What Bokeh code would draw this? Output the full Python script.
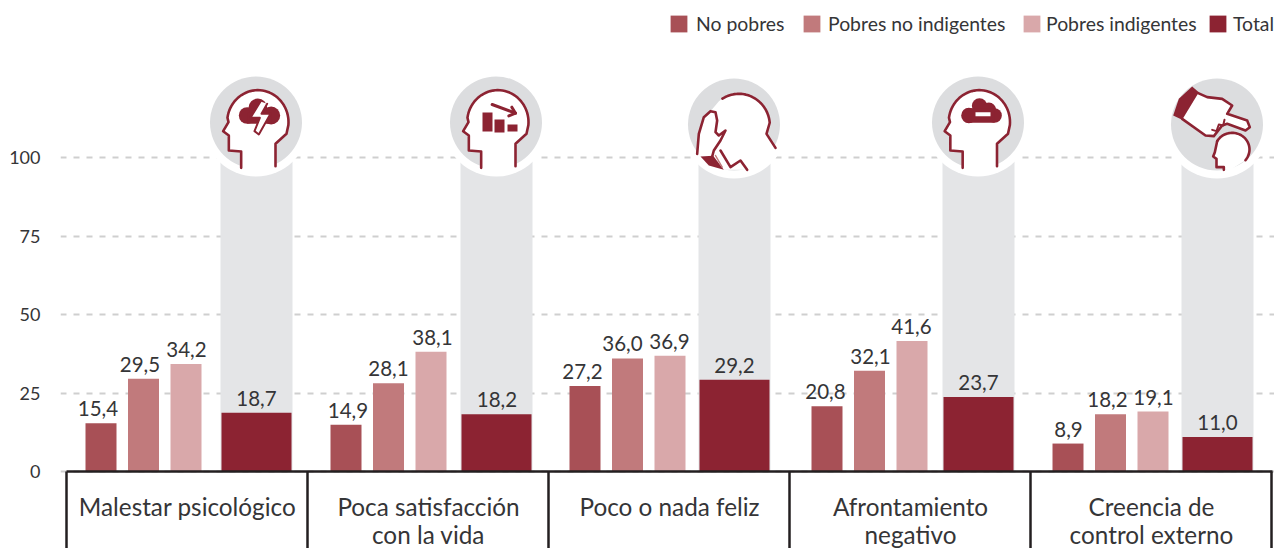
import numpy as np
from bokeh.embed import file_html
from bokeh.resources import INLINE
from bokeh.plotting import figure
from bokeh.models import Range1d, Legend, LegendItem, FixedTicker
from bokeh.core.properties import value

# ---------- data ----------
categories = ["Malestar psicológico", "Poca satisfacción\ncon la vida", "Poco o nada feliz",
              "Afrontamiento\nnegativo", "Creencia de\ncontrol externo"]
no_pobres = [15.4, 14.9, 27.2, 20.8, 8.9]
pobres_no_indigentes = [29.5, 28.1, 36.0, 32.1, 18.2]
pobres_indigentes = [34.2, 38.1, 36.9, 41.6, 19.1]
total = [18.7, 18.2, 29.2, 23.7, 11.0]
background = [100, 100, 100, 100, 100]
y_ticks = [0, 25, 50, 75, 100]
series_names = ["No pobres", "Pobres no indigentes", "Pobres indigentes", "Total"]

# ---------- layout ----------
FONT = "Lato"
TXT = "#353537"
RED = "#8c2332"
COLORS = ["#a85056", "#c17a7c", "#d9a8aa", RED]
GRAY = "#e4e5e7"
DISC = "#dcdddf"
first_x = [100.5, 345.5, 584.5, 826.5, 1067.5]
total_x = [256, 496, 734, 978, 1217]
sep_x = [66, 307, 548, 789, 1030, 1271]
label_x = [187, 428, 669, 910, 1151]
# horizontal nudges of the value labels, per series and group
label_nudge = [[-3, 2, -2.5, -1.5, 0.5], [-3.5, 0, -5, 1, -3], [0.5, 1.5, -0.5, -0.5, 0.5], [0, 0.5, 0, 0, 0]]
legend_x = [608, 741, 961, 1147]
legend_gap = [7, 6, 4, 5]
Y0 = 471.0
K = 3.14

def Y(py):
    return (Y0 - np.asarray(py, dtype=float)) / K

p = figure(width=1274, height=548, output_backend="svg", toolbar_location=None,
           x_range=Range1d(60, 1274), y_range=Range1d(float(Y(548)), float(Y(0))),
           min_border_left=60, min_border_right=0, min_border_top=0, min_border_bottom=0)
p.outline_line_color = None
p.background_fill_color = "white"
p.xaxis.visible = False
p.xgrid.visible = False
p.yaxis.axis_line_color = None
p.yaxis.major_tick_line_color = None
p.yaxis.minor_tick_line_color = None
p.yaxis.ticker = FixedTicker(ticks=y_ticks)
p.yaxis.major_label_text_font = FONT
p.yaxis.major_label_text_font_size = "18px"
p.yaxis.major_label_text_color = TXT
p.yaxis.major_label_standoff = 14
p.ygrid.ticker = FixedTicker(ticks=y_ticks)
p.ygrid.grid_line_color = "#cfcfcf"
p.ygrid.grid_line_width = 2
p.ygrid.grid_line_dash = "6 7"
p.ygrid.bounds = (66, 1274)

# grey columns
tx = np.array(total_x, dtype=float)
p.vbar(x=tx, top=background, bottom=0, width=72, fill_color=GRAY, line_color=None)

# bars
series = [no_pobres, pobres_no_indigentes, pobres_indigentes, total]
renderers = []
xs_all, ys_all, labels_all = [], [], []
for i, vals in enumerate(series):
    xs = tx if i == 3 else np.array(first_x) + i * 42.5
    r = p.vbar(x=xs, top=vals, bottom=0, width=70 if i == 3 else 31,
               fill_color=COLORS[i], line_color=None)
    renderers.append(r)
    xs_all += list(xs + np.array(label_nudge[i]))
    ys_all += list(vals)
    labels_all += [f"{v:.1f}".replace(".", ",") for v in vals]

p.text(x=xs_all, y=ys_all, text=labels_all, text_align="center", text_baseline="bottom",
       y_offset=-7, text_font=value(FONT), text_font_size="20.5px", text_color=TXT)

# frame below the baseline
p.segment(x0=[66], x1=[1272], y0=[0], y1=[0], line_color="#231f20", line_width=2.5)
p.segment(x0=sep_x, x1=sep_x, y0=[0] * 6, y1=[float(Y(548))] * 6, line_color="#231f20", line_width=2.5)

# category labels
p.text(x=label_x, y=[float(Y(491))] * 5, text=categories, text_align="center", text_baseline="top",
       text_font=value(FONT), text_font_size="24.3px", text_color=TXT, text_line_height=0.97)

# ---------- icons (decorative; in page pixels) ----------
def arc(cx, cy, rx, ry, a0, a1, n=40):
    a = np.radians(np.linspace(a0, a1, n))
    return [(cx + rx * np.cos(t), cy - ry * np.sin(t)) for t in a]

def shape(pts, ox, oy, dx=0, fill=None, line=None, w=2.6):
    xs = [ox + x / 3 + dx for x, _ in pts]
    yy = [float(v) for v in Y([oy + y / 3 for _, y in pts])]
    if fill:
        p.patch(xs, yy, fill_color=fill, line_color=None)
    if line:
        p.line(xs, yy, line_color=line, line_width=w, line_join="round", line_cap="round")

def blob(cx, cy, r, ox, oy, dx=0, col=RED):
    p.scatter([ox + cx / 3 + dx], [float(Y(oy + cy / 3))], size=2 * r / 3, fill_color=col,
              line_color=None, marker="circle")

def disc(cx, cy, d=92):
    p.scatter([cx], [float(Y(cy + 1))], size=d + 14, fill_color="white", line_color=None)
    p.scatter([cx], [float(Y(cy))], size=d, fill_color=DISC, line_color=None)

HEAD = ([(122, 292), (122, 243), (85, 240), (85, 195), (68, 182), (84, 155)]
        + arc(172, 155, 92, 96, 172, -5) + [(258, 190), (225, 220), (225, 287)])

def head(dx, oy=70):
    shape(HEAD + [(170, 305)], 200, oy, dx, fill="white")
    shape(HEAD, 200, oy, dx, line=RED)

for cx, cy in [(255.5, 122), (495.5, 122), (733.5, 124), (977.5, 122), (1216.5, 124)]:
    disc(cx, cy)

# icon 1
head(0)
for c in [(140, 135, 25), (172, 112, 28), (212, 135, 27)]:
    blob(*c, 200, 70)
shape([(140, 125), (212, 125), (212, 160), (140, 160)], 200, 70, fill=RED)
shape([(180, 93), (150, 142), (178, 142), (162, 182), (175, 192), (210, 130), (183, 130), (200, 100)],
      200, 70, fill="white", line=RED, w=2)

# icon 2
head(240)
for x0, y0, x1, y1 in [(846, 126, 876, 183), (882, 147, 912, 186), (921, 162, 951, 183)]:
    shape([(x0, y0), (x1, y0), (x1, y1), (x0, y1)], 200, 70, fill=RED)
shape([(875, 102), (945, 128)], 200, 70, line=RED, w=3)
shape([(934, 110), (945, 128), (925, 136)], 200, 70, line=RED, w=3)

# icon 3
shape(arc(175, 165, 93, 95, 130, 5) + [(258, 190), (285, 232), (240, 290), (200, 298), (130, 298),
      (85, 285), (60, 258), (50, 250), (55, 190), (70, 140), (90, 122)], 680, 70, fill="white")
shape(arc(175, 165, 93, 95, 122, 5) + [(258, 190), (285, 232)], 680, 70, line=RED)
shape([(60, 258), (98, 256), (130, 298), (85, 285)], 680, 70, fill=RED)
shape([(50, 250), (55, 190), (70, 140), (90, 122), (105, 125), (110, 150), (105, 185), (115, 195),
       (135, 180), (120, 210), (100, 240), (95, 258)], 680, 70, line=RED)
shape([(120, 240), (150, 290), (180, 270), (200, 298)], 680, 70, line=RED)
shape([(105, 255), (125, 290)], 680, 70, line="#c17a7c", w=1.5)

# icon 4
head(721.5)
for c in [(865, 135, 23), (897, 106, 23), (925, 118, 22), (942, 135, 22)]:
    blob(*c, 680, 70)
shape([(865, 113), (942, 113), (942, 157), (865, 157)], 680, 70, fill=RED)
shape([(885, 125), (930, 125), (930, 137), (885, 137)], 680, 70, fill="white")

# icon 5
shape([(503, 68), (530, 80), (575, 85), (605, 105), (590, 130), (650, 150), (658, 170), (645, 180),
       (590, 160), (575, 165), (550, 197), (525, 195), (455, 145)], 1030, 70, fill="white", line=RED)
shape([(545, 178), (558, 182), (565, 162), (578, 165), (582, 148)], 1030, 70, line=RED, w=2)
shape([(485, 48), (505, 65), (455, 148), (428, 135), (445, 85)], 1030, 70, fill=RED)
small = (arc(605, 237, 52, 50, 150, -40) + [(600, 298), (580, 298), (580, 290), (558, 290), (558, 265),
         (548, 258), (553, 245)])
shape(small, 1030, 70, fill="white")
shape(arc(605, 237, 52, 50, 150, -40), 1030, 70, line=RED)
shape([(560, 212), (553, 245), (548, 258), (558, 265), (558, 290), (580, 290), (580, 298)], 1030, 70, line=RED)

# legend: one block per entry, so that each sits where the reference has it
for n, r, lx, gap in zip(series_names, renderers, legend_x, legend_gap):
    legend = Legend(items=[LegendItem(label=n, renderers=[r])],
                    orientation="horizontal", location=(lx, 513), border_line_color=None,
                    background_fill_alpha=0, padding=0, margin=0, spacing=0, label_standoff=gap,
                    glyph_width=21, glyph_height=21, label_text_font=FONT, label_text_font_size="19.4px",
                    label_text_color=TXT, label_text_baseline="middle")
    p.add_layout(legend, "center")

open("out.html", "w").write(file_html(p, INLINE))
